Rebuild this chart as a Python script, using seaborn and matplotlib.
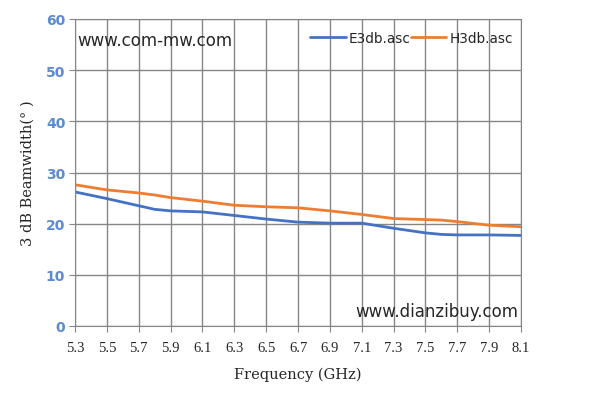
import pandas as pd
import matplotlib
matplotlib.use("Agg")
import matplotlib.pyplot as plt
import seaborn as sns

# values
freq = [5.3, 5.5, 5.7, 5.8, 5.9, 6.1, 6.3, 6.5, 6.7, 6.9, 7.1, 7.3, 7.5, 7.6, 7.7, 7.9, 8.1]
e3db = [26.2, 24.9, 23.5, 22.8, 22.5, 22.3, 21.6, 20.9, 20.3, 20.1, 20.1, 19.1, 18.2, 17.9, 17.8, 17.8, 17.7]
h3db = [27.6, 26.6, 26.0, 25.6, 25.1, 24.4, 23.6, 23.3, 23.1, 22.5, 21.8, 21.0, 20.8, 20.7, 20.4, 19.7, 19.4]
xticks = [5.3, 5.5, 5.7, 5.9, 6.1, 6.3, 6.5, 6.7, 6.9, 7.1, 7.3, 7.5, 7.7, 7.9, 8.1]
yticks = [0, 10, 20, 30, 40, 50, 60]

df = pd.DataFrame({"freq": freq * 2,
                   "value": e3db + h3db,
                   "series": ["E3db.asc"] * len(freq) + ["H3db.asc"] * len(freq)})

sns.set_style("white")
plt.rcParams['font.family'] = ['DejaVu Sans']

fig = plt.figure(figsize=(5.94, 4.10), dpi=100)
ax = fig.add_axes([75 / 594, 1 - 327 / 410, (521 - 75) / 594, (327 - 20) / 410])

sns.lineplot(data=df, x="freq", y="value", hue="series",
             palette={"E3db.asc": "#4472C4", "H3db.asc": "#ED7D31"},
             linewidth=2.0, ax=ax)

ax.set_xlim(5.3, 8.1)
ax.set_ylim(0, 60)
ax.set_xticks(xticks)
ax.set_xticklabels([f"{t:.1f}" for t in xticks], fontsize=10.5, family='Liberation Serif')
ax.set_yticks(yticks)
ax.set_yticklabels([str(t) for t in yticks], fontsize=10, fontweight='bold', color='#5B8BD0')
ax.grid(True, color='#868686', linewidth=1)
for s in ax.spines.values():
    s.set_color('#868686')
ax.tick_params(axis='both', length=4, color='#868686', direction='out', pad=3)
ax.tick_params(axis='x', pad=7)
ax.tick_params(left=True, bottom=True)

ax.set_xlabel("Frequency (GHz)", fontsize=10.5, family='DejaVu Serif', labelpad=9)
ax.set_ylabel("3 dB Beamwidth(° )", fontsize=10.5, family='DejaVu Serif', labelpad=8)

leg = ax.legend(loc='upper right', frameon=False, ncol=2, fontsize=9.8,
                handlelength=2.6, columnspacing=0.0, handletextpad=0.25,
                bbox_to_anchor=(1.01, 1.0))
leg.set_title(None)

ax.text(0.005, 0.93, "www.com-mw.com", transform=ax.transAxes, fontsize=12, va='center', ha='left')
ax.text(0.995, 0.05, "www.dianzibuy.com", transform=ax.transAxes, fontsize=12, va='center', ha='right')

fig.savefig("out.png", dpi=100)
